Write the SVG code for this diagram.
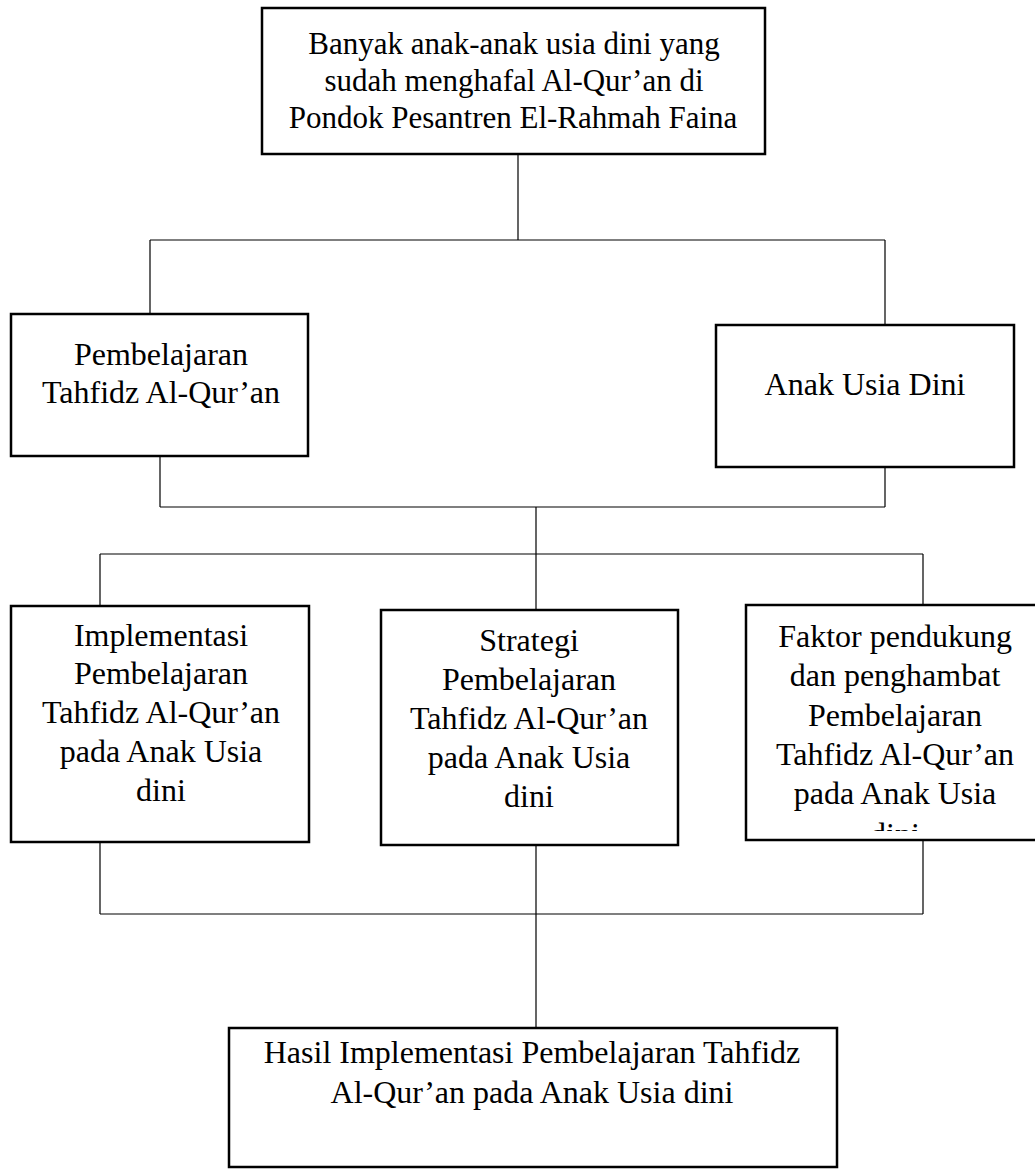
<svg xmlns="http://www.w3.org/2000/svg" width="1035" height="1171" viewBox="0 0 1035 1171">
<style>
.box{fill:#fff;stroke:#000;stroke-width:2.5}
.con{fill:none;stroke:#000;stroke-width:1.2}
text{font-family:"Liberation Serif","Times New Roman",serif;font-size:32px;fill:#000;text-anchor:middle}
.t31{font-size:31px}
</style>
<defs>
<clipPath id="clipR"><rect x="746" y="605" width="300" height="226"/></clipPath>
</defs>
<rect width="1035" height="1171" fill="#fff"/>
<g id="connectors">
<path class="con" d="M518,154 V240 M150,240 H885 M150,240 V314 M885,240 V325"/>
<path class="con" d="M160,456 V507 M885,467 V507 M160,507 H885 M536,507 V610 M100,554 H923 M100,554 V606 M923,554 V605"/>
<path class="con" d="M100,842 V914 M923,840 V914 M100,914 H923 M536,845 V1028"/>
</g>
<g id="node-top">
<rect class="box" x="262" y="8" width="503" height="146"/>
<text class="t31" x="514" y="54">Banyak anak-anak usia dini yang</text>
<text class="t31" x="514" y="91">sudah menghafal Al-Qur’an di</text>
<text class="t31" x="513" y="128">Pondok Pesantren El-Rahmah Faina</text>
</g>
<g id="node-pembelajaran">
<rect class="box" x="11" y="314" width="297" height="142"/>
<text x="161" y="365">Pembelajaran</text>
<text x="161" y="403">Tahfidz Al-Qur’an</text>
</g>
<g id="node-anak">
<rect class="box" x="716" y="325" width="298" height="142"/>
<text x="865" y="395">Anak Usia Dini</text>
</g>
<g id="node-implementasi">
<rect class="box" x="11" y="606" width="298" height="236"/>
<text x="161" y="646">Implementasi</text>
<text x="161" y="684">Pembelajaran</text>
<text x="161" y="723">Tahfidz Al-Qur’an</text>
<text x="161" y="762">pada Anak Usia</text>
<text x="161" y="801">dini</text>
</g>
<g id="node-strategi">
<rect class="box" x="381" y="610" width="297" height="235"/>
<text x="529" y="651">Strategi</text>
<text x="529" y="690">Pembelajaran</text>
<text x="529" y="729">Tahfidz Al-Qur’an</text>
<text x="529" y="768">pada Anak Usia</text>
<text x="529" y="807">dini</text>
</g>
<g id="node-faktor">
<rect class="box" x="746" y="605" width="298" height="235"/>
<g clip-path="url(#clipR)">
<text x="895" y="647">Faktor pendukung</text>
<text x="895" y="686">dan penghambat</text>
<text x="895" y="726">Pembelajaran</text>
<text x="895" y="765">Tahfidz Al-Qur’an</text>
<text x="895" y="804">pada Anak Usia</text>
<text x="895" y="845">dini</text>
</g>
</g>
<g id="node-hasil">
<rect class="box" x="229" y="1028" width="608" height="139"/>
<text x="532" y="1063">Hasil Implementasi Pembelajaran Tahfidz</text>
<text x="532" y="1103">Al-Qur’an pada Anak Usia dini</text>
</g>
</svg>
